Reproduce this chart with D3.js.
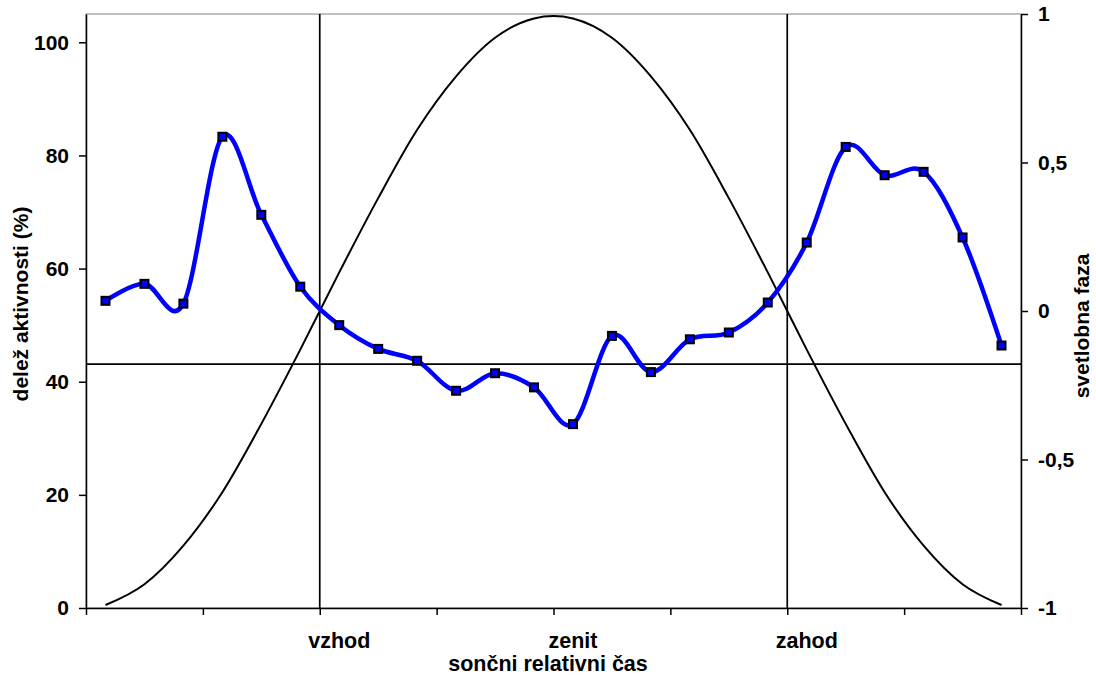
<!DOCTYPE html>
<html>
<head>
<meta charset="utf-8">
<script src="https://cdn.jsdelivr.net/npm/d3@7"></script>
<style>
  html, body { margin: 0; padding: 0; background: #ffffff; }
  svg { display: block; font-family: "Liberation Sans", Arial, sans-serif; font-weight: bold; }
</style>
</head>
<body>
<svg id="chart" width="1096" height="684"></svg>
<script>
// Hourly slots of relative solar time (24 per day)
const slots = [1, 2, 3, 4, 5, 6, 7, 8, 9, 10, 11, 12, 13, 14, 15, 16, 17, 18, 19, 20, 21, 22, 23, 24];

// Named moments on the time axis: slot that carries the label
const slotNames = [
  { slot: 7, label: "vzhod" },
  { slot: 13, label: "zenit" },
  { slot: 19, label: "zahod" }
];

// Share of activity per slot (%)
const activityShare = [54.3, 57.3, 53.8, 83.3, 69.5, 56.8, 50.0, 45.8, 43.7, 38.4, 41.5, 39.0,
                       32.5, 48.1, 41.7, 47.5, 48.7, 54.0, 64.6, 81.5, 76.5, 77.1, 65.5, 46.4];

// Light phase per slot (-1 night … 1 noon)
const lightPhase = [-0.99, -0.92, -0.79, -0.61, -0.38, -0.13, 0.13, 0.38, 0.61, 0.79, 0.92, 0.985,
                    0.985, 0.92, 0.79, 0.61, 0.38, 0.13, -0.13, -0.38, -0.61, -0.79, -0.92, -0.99];

// Reference activity level (%)
const referenceLevel = 43.1;

// Axis ticks
const leftTicks = [0, 20, 40, 60, 80, 100];
const rightTicks = [-1, -0.5, 0, 0.5, 1];
const boundaryTicks = [0, 3, 6, 9, 12, 15, 18, 21, 24];

const svg = d3.select("#chart");
const plotLeft = 86, plotRight = 1021, plotTop = 14, plotBottom = 608;
const tickFont = 21;
const labelFont = 21.5;
const titleFont = 21;

const x = d3.scaleBand().domain(slots).range([plotLeft, plotRight]).paddingInner(0).paddingOuter(0);
const xEdge = d3.scaleLinear().domain([0, slots.length]).range([plotLeft, plotRight]);
const yLeft = d3.scaleLinear().domain([0, 105]).range([plotBottom, plotTop]);
const yRight = d3.scaleLinear().domain([-1, 1]).range([plotBottom, plotTop]);

const cx = (s) => x(s) + x.bandwidth() / 2;

// Plot area frame
svg.append("rect")
  .attr("x", plotLeft).attr("y", plotTop)
  .attr("width", plotRight - plotLeft).attr("height", plotBottom - plotTop)
  .attr("fill", "none").attr("stroke", "#808080").attr("stroke-width", 1);

// Sunrise / sunset markers
const sunrise = slotNames.find(d => d.label === "vzhod").slot;
const sunset = slotNames.find(d => d.label === "zahod").slot;
svg.selectAll("line.vmark")
  .data([sunrise, sunset])
  .join("line")
  .attr("class", "vmark")
  .attr("x1", d => x(d)).attr("x2", d => x(d))
  .attr("y1", plotTop).attr("y2", plotBottom)
  .attr("stroke", "#000").attr("stroke-width", 1.7);

// Reference level
svg.append("line")
  .attr("x1", plotLeft).attr("x2", plotRight)
  .attr("y1", yLeft(referenceLevel)).attr("y2", yLeft(referenceLevel))
  .attr("stroke", "#000").attr("stroke-width", 1.7);

// Light phase curve (right axis)
const phaseLine = d3.line()
  .x((d, i) => cx(slots[i]))
  .y(d => yRight(d))
  .curve(d3.curveCardinal.tension(0));
svg.append("path")
  .datum(lightPhase)
  .attr("d", phaseLine)
  .attr("fill", "none").attr("stroke", "#000").attr("stroke-width", 2);

// Activity curve (left axis)
const activityLine = d3.line()
  .x((d, i) => cx(slots[i]))
  .y(d => yLeft(d))
  .curve(d3.curveCardinal.tension(0));
svg.append("path")
  .datum(activityShare)
  .attr("d", activityLine)
  .attr("fill", "none").attr("stroke", "#0000ff").attr("stroke-width", 4.5);

// Square markers
const m = 8;
svg.selectAll("rect.marker")
  .data(activityShare)
  .join("rect")
  .attr("class", "marker")
  .attr("x", (d, i) => cx(slots[i]) - m / 2)
  .attr("y", d => yLeft(d) - m / 2)
  .attr("width", m).attr("height", m)
  .attr("fill", "#0000ff").attr("stroke", "#000").attr("stroke-width", 2);

// Axes
function styleAxis(size) {
  return (g) => {
    g.selectAll("path.domain").attr("stroke", "#000").attr("stroke-width", 1.5);
    g.selectAll(".tick line").attr("stroke", "#000").attr("stroke-width", 1.5);
    g.selectAll("text")
      .attr("font-family", "Liberation Sans, Arial, sans-serif")
      .attr("font-weight", "bold")
      .attr("font-size", size)
      .attr("fill", "#000");
  };
}

svg.append("g")
  .attr("transform", `translate(${plotLeft},0)`)
  .call(d3.axisLeft(yLeft).tickValues(leftTicks).tickSize(7).tickSizeOuter(0).tickPadding(10).tickFormat(d3.format("d")))
  .call(styleAxis(tickFont));

const commaNum = (d) => String(d).replace(".", ",");
svg.append("g")
  .attr("transform", `translate(${plotRight},0)`)
  .call(d3.axisRight(yRight).tickValues(rightTicks).tickSize(7).tickSizeOuter(0).tickPadding(10).tickFormat(commaNum))
  .call(styleAxis(tickFont));

svg.append("g")
  .attr("transform", `translate(0,${plotBottom})`)
  .call(d3.axisBottom(xEdge).tickValues(boundaryTicks).tickSize(7).tickSizeOuter(0).tickFormat(""))
  .call(styleAxis(tickFont));

const labelAxis = svg.append("g")
  .attr("transform", `translate(0,${plotBottom})`)
  .call(d3.axisBottom(x).tickValues(slotNames.map(d => d.slot)).tickSize(0).tickPadding(25)
    .tickFormat(s => slotNames.find(d => d.slot === s).label))
  .call(styleAxis(labelFont));
labelAxis.select("path.domain").remove();

// Axis titles
svg.append("text")
  .attr("x", 548).attr("y", 671)
  .attr("text-anchor", "middle")
  .attr("font-size", labelFont)
  .text("sončni relativni čas");

svg.append("text")
  .attr("transform", "translate(28,304) rotate(-90)")
  .attr("text-anchor", "middle")
  .attr("font-size", titleFont)
  .text("delež aktivnosti (%)");

svg.append("text")
  .attr("transform", "translate(1089,326) rotate(-90)")
  .attr("text-anchor", "middle")
  .attr("font-size", titleFont)
  .text("svetlobna faza");
</script>
</body>
</html>
